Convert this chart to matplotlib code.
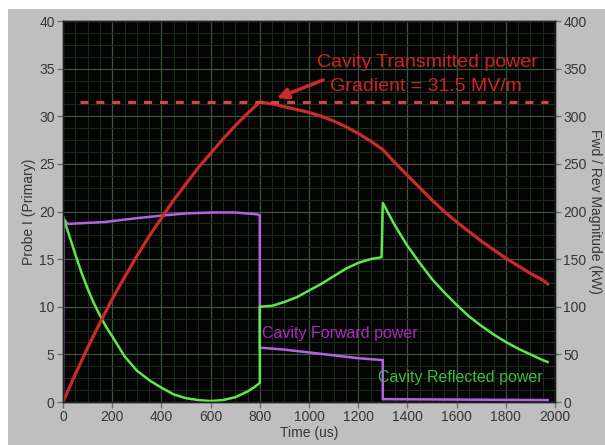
import matplotlib
matplotlib.use('Agg')
import matplotlib.pyplot as plt
from matplotlib.ticker import MultipleLocator
from matplotlib.patches import Rectangle

# ---------------- data ----------------
probe_t = [0, 50, 100, 150, 200, 250, 300, 350, 400, 450, 500, 550, 600, 650, 700, 750, 800,
           850, 900, 950, 1000, 1050, 1100, 1150, 1200, 1250, 1300,
           1350, 1400, 1450, 1500, 1550, 1600, 1650, 1700, 1750, 1800, 1850, 1900, 1950, 1970]
probe_v = [0.0, 2.9, 5.7, 8.3, 10.8, 13.1, 15.3, 17.4, 19.3, 21.2, 22.9, 24.6, 26.1, 27.6, 29.0, 30.3, 31.5,
           31.3, 31.0, 30.7, 30.4, 30.0, 29.5, 28.9, 28.2, 27.4, 26.5,
           25.1, 23.8, 22.5, 21.2, 20.0, 18.9, 17.9, 16.9, 16.0, 15.1, 14.3, 13.5, 12.8, 12.4]

refl_t = [0, 25, 50, 75, 100, 125, 150, 175, 200, 250, 300, 350, 400, 450, 500, 550, 600, 650,
          700, 750, 780, 800, 800, 850, 900, 950, 1000, 1050, 1100, 1150, 1200, 1250, 1295,
          1300, 1350, 1400, 1450, 1500, 1550, 1600, 1650, 1700, 1750, 1800, 1850, 1900, 1950, 1970]
refl_kw = [195, 175, 155, 136, 119, 104, 91, 79, 69, 48, 33, 23, 15, 8, 4, 2, 1, 2,
           5, 11, 16, 20, 100, 101, 105, 110, 117, 124, 132, 140, 146, 150, 152,
           209, 185, 164, 146, 129, 115, 102, 90, 80, 71, 63, 56, 50, 44, 42]

fwd_t = [0, 3, 20, 100, 170, 300, 414, 500, 617, 700, 790, 800, 800, 900, 1000, 1100, 1200,
         1300, 1300, 1970]
fwd_kw = [0, 192, 187, 188, 189, 193, 196, 198, 199, 199, 197, 196, 57, 55, 52, 49, 46,
          44, 3, 2]

gradient_level = 31.5
dash_start, dash_end = 70, 1970

title_text = "Cavity Transmitted power"
gradient_text = "Gradient = 31.5 MV/m"
fwd_text = "Cavity Forward power"
refl_text = "Cavity Reflected power"

# ---------------- style ----------------
plt.rcParams['font.family'] = ['Liberation Sans Narrow', 'Liberation Sans', 'DejaVu Sans']

W, H = 605, 445
fig = plt.figure(figsize=(W / 100, H / 100), dpi=100)
fig.patch.set_facecolor('white')
fig.add_artist(Rectangle((8 / W, 0), 1, 1 - 9 / H, transform=fig.transFigure,
                         facecolor='#bfbfbf', edgecolor='none', zorder=0))

x0, x1, y0, y1 = 63, 555, 21, 402
ax = fig.add_axes([x0 / W, 1 - y1 / H, (x1 - x0) / W, (y1 - y0) / H])
ax2 = ax.twinx()

ax.set_zorder(2)
ax2.set_zorder(1)
ax.patch.set_visible(False)
ax2.patch.set_visible(True)
ax2.set_facecolor('#040404')

ax.set_xlim(0, 2000)
ax.set_ylim(0, 40)
ax2.set_ylim(0, 400)

ax.xaxis.set_major_locator(MultipleLocator(200))
ax.xaxis.set_minor_locator(MultipleLocator(50))
ax.yaxis.set_major_locator(MultipleLocator(5))
ax2.yaxis.set_major_locator(MultipleLocator(50))
ax2.yaxis.set_minor_locator(MultipleLocator(12.5))

# grid on the back (right) axes
ax2.xaxis.set_visible(True)
ax2.tick_params(axis='x', which='both', bottom=False, top=False,
                labelbottom=False, labeltop=False)
ax2.grid(which='major', color='#3b543b', lw=0.9)
ax2.grid(which='minor', color='#1c2e1c', lw=0.7)
ax2.set_axisbelow(True)

tick_kw = dict(direction='out', length=4.5, width=1, color='#707070',
               labelcolor='#363636', labelsize=10, pad=1.5)
ax.tick_params(axis='both', which='major', **tick_kw)
ax.tick_params(axis='both', which='minor', length=0)
ax2.tick_params(axis='y', which='major', **tick_kw)
ax2.tick_params(axis='y', which='minor', length=0)

for a in (ax, ax2):
    for s in a.spines.values():
        s.set_color('#202020')
        s.set_linewidth(1)

lab_kw = dict(fontfamily=['Liberation Sans', 'DejaVu Sans'], fontsize=10, color='#363636')
ax.set_xlabel("Time (us)", labelpad=1, **lab_kw)
ax.set_ylabel("Probe I (Primary)", labelpad=2, **lab_kw)
ax2.set_ylabel("Fwd / Rev Magnitude (kW)", rotation=270, labelpad=11, **lab_kw)

# ---------------- series ----------------
ax2.plot(fwd_t, fwd_kw, color='#b264e0', lw=1.8, solid_joinstyle='miter')
ax2.plot(refl_t, refl_kw, color='#5ee84c', lw=1.8)
ax.plot(probe_t, probe_v, color='#cc2a2a', lw=2.3)

ax.plot([dash_start, dash_end], [gradient_level, gradient_level], color='#d84444',
        lw=2.2, linestyle=(0, (2.6, 2.6)))

ann_font = ['Liberation Sans', 'DejaVu Sans']
ax.text(1480, 35.6, title_text, color='#cc2424', fontsize=14, ha='center', va='center',
        fontfamily=ann_font)
ax.text(1476, 33.1, gradient_text, color='#cc2424', fontsize=14, ha='center', va='center',
        fontfamily=ann_font)
ax.annotate('', xy=(870, 31.9), xytext=(1057, 33.8),
            arrowprops=dict(arrowstyle='-|>', color='#cc2a2a', lw=2.5,
                            mutation_scale=16, shrinkA=0, shrinkB=0))

ax2.text(1126, 72, fwd_text, color='#a72ac0', fontsize=11.5, ha='center', va='center',
         fontfamily=ann_font)
ax2.text(1614, 26, refl_text, color='#3cbc3c', fontsize=11.5, ha='center', va='center',
         fontfamily=ann_font)

fig.savefig('out.png', dpi=100, facecolor=fig.get_facecolor())
